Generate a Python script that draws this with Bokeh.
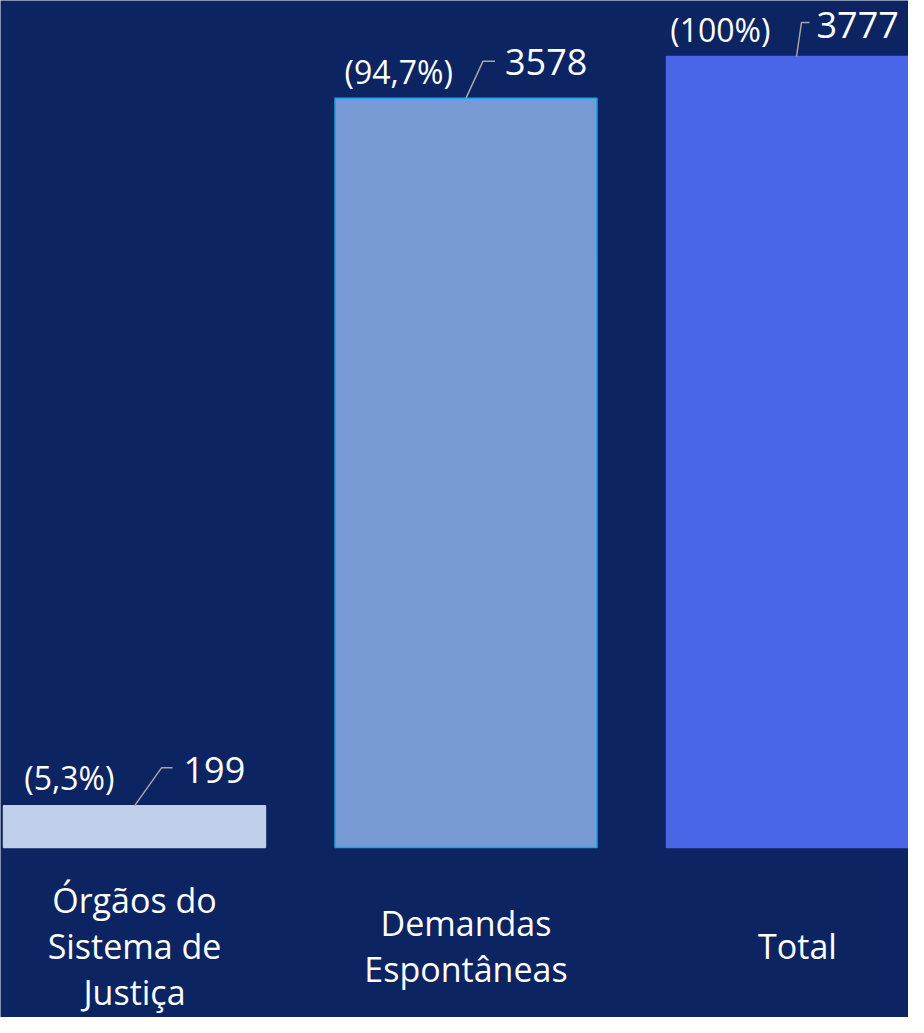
from bokeh.plotting import figure
from bokeh.models import Range1d, ColumnDataSource
from bokeh.core.properties import value
from bokeh.embed import file_html
from bokeh.resources import INLINE

# ---------------- data ----------------
categories = ["Órgãos do\nSistema de\nJustiça", "Demandas\nEspontâneas", "Total"]
values = [199, 3578, 3777]
pct_labels = ["(5,3%)", "(94,7%)", "(100%)"]

# ---------------- layout / style ----------------
W, H = 908, 1017
BG = "#0C2461"
fill_colors = ["#BFCFEA", "#7799D4", "#4A66E8"]
line_colors = ["#BFCFEA", "#1AA6E6", "#4A66E8"]
FONT = "Open Sans"

BASE_PX = 847          # baseline, px from top of figure
TOP_PX = 56            # top of tallest bar, px from top
X0_PX = 134            # centre of first category, px from left
STEP_PX = 331.5        # px between category centres
BAR_W = 0.79

ypu = (BASE_PX - TOP_PX) / max(values)   # px per unit
x_range = Range1d(-X0_PX / STEP_PX, (W - X0_PX) / STEP_PX)
y_range = Range1d(-(H - BASE_PX) / ypu, BASE_PX / ypu)

def dx(px):
    return px / STEP_PX

def dy(px):  # px upward -> data units
    return px / ypu

# label placement offsets in px relative to bar-top centre (x right, y up)
val_off = [(49, 36), (39, 36), (19, 32)]
pct_off = [(-20, 28), (-13, 27), (-27, 27)]
leader_off = [[(0, 0), (27, 38), (38, 38)],
              [(0, 0), (17, 37), (29, 37)],
              [(-1, 0), (4, 34), (12, 34)]]
CAT_LABEL_PX = 98

p = figure(width=W, height=H, x_range=x_range, y_range=y_range,
           output_backend="svg", toolbar_location=None,
           x_axis_location=None, y_axis_location=None,
           background_fill_color=BG, border_fill_color=BG,
           min_border=0, outline_line_color=None)
p.grid.visible = False

xs = list(range(len(values)))
src = ColumnDataSource(dict(x=xs, top=values, fill=fill_colors, line=line_colors))
p.vbar(x="x", top="top", bottom=0, width=BAR_W, source=src,
       fill_color="fill", line_color="line", line_width=1.5)

# leader lines
lx, ly = [], []
for i, v in enumerate(values):
    lx.append([i + dx(a) for a, b in leader_off[i]])
    ly.append([v + dy(b) for a, b in leader_off[i]])
p.multi_line(xs=lx, ys=ly, line_color="#A6A6A6", line_width=1.5)

# value labels
p.text(x=[i + dx(val_off[i][0]) for i in xs],
       y=[v + dy(val_off[i][1]) for i, v in enumerate(values)],
       text=[str(v) for v in values],
       text_font=value(FONT), text_font_size="36px", text_color="white",
       text_align="left", text_baseline="middle")

# percentage labels
p.text(x=[i + dx(pct_off[i][0]) for i in xs],
       y=[v + dy(pct_off[i][1]) for i, v in enumerate(values)],
       text=pct_labels,
       text_font=value(FONT), text_font_size="32px", text_color="white",
       text_align="right", text_baseline="middle")

# category labels
p.text(x=xs, y=[-dy(CAT_LABEL_PX)] * len(xs), text=categories,
       text_font=value(FONT), text_font_size="34px", text_color="white",
       text_align="center", text_baseline="middle", text_line_height=1.0)

open("out.html", "w").write(file_html(p, INLINE))
